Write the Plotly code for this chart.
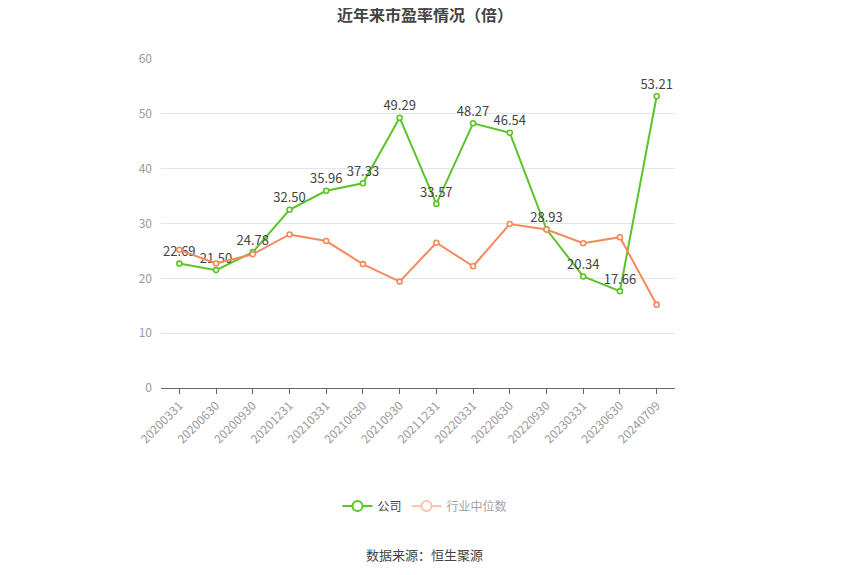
import plotly.graph_objects as go

dates = ["20200331", "20200630", "20200930", "20201231", "20210331", "20210630", "20210930",
         "20211231", "20220331", "20220630", "20220930", "20230331", "20230630", "20240709"]
company_pe = [22.69, 21.50, 24.78, 32.50, 35.96, 37.33, 49.29, 33.57, 48.27, 46.54, 28.93, 20.34, 17.66, 53.21]
industry_median = [25.2, 22.7, 24.4, 28.0, 26.8, 22.6, 19.4, 26.5, 22.2, 29.9, 28.9, 26.4, 27.5, 15.2]

green = "#5cc42a"
orange = "#f7885a"

fig = go.Figure()

fig.add_trace(go.Scatter(
    x=dates, y=company_pe, name="公司", showlegend=False,
    mode="lines+markers+text",
    text=[f"{v:.2f}" for v in company_pe],
    textposition="top center",
    textfont=dict(size=13, color="#444"),
    line=dict(color=green, width=2),
    marker=dict(symbol="circle", size=5, color="white", line=dict(color=green, width=1.6)),
))

fig.add_trace(go.Scatter(
    x=dates, y=industry_median, name="行业中位数", showlegend=False,
    mode="lines+markers",
    line=dict(color=orange, width=2),
    marker=dict(symbol="circle", size=5, color="white", line=dict(color=orange, width=1.6)),
))

# legend-only entries with larger icons, as in the reference
fig.add_trace(go.Scatter(
    x=[None], y=[None], name="公司", mode="lines+markers",
    line=dict(color=green, width=2),
    marker=dict(symbol="circle", size=10, color="white", line=dict(color=green, width=2)),
))
fig.add_trace(go.Scatter(
    x=[None], y=[None], name="行业中位数", mode="lines+markers", visible="legendonly",
    line=dict(color=orange, width=2),
    marker=dict(symbol="circle", size=10, color="white", line=dict(color=orange, width=2)),
))

fig.update_layout(
    width=850, height=575,
    paper_bgcolor="white", plot_bgcolor="white",
    font=dict(family="Noto Sans CJK SC, sans-serif", size=12, color="#333"),
    title=dict(text="<b>近年来市盈率情况（倍）</b>", xref="container", x=0.4906, xanchor="center",
               yref="container", y=0.9878, yanchor="middle",
               font=dict(size=16, color="#444")),
    margin=dict(l=153, r=183, t=51, b=195),
    showlegend=True,
    legend=dict(orientation="h", x=0.5136, xanchor="center",
                y=-0.359, yanchor="middle",
                font=dict(size=12, color="#444"), itemclick=False, itemdoubleclick=False),
    annotations=[dict(text="数据来源：恒生聚源", x=0.5136, xref="paper", y=-0.505, yref="paper",
                      yanchor="middle", showarrow=False, font=dict(size=13, color="#444"))],
)

fig.update_xaxes(
    type="category", range=[-0.5, len(dates) - 0.5], tickangle=-45, showgrid=False,
    automargin=False, showline=True, linecolor="#666", linewidth=1,
    ticks="outside", ticklen=5, tickcolor="#666",
    tickfont=dict(size=12, color="#999"),
)
fig.update_yaxes(
    range=[0, 60], dtick=10, showgrid=True, gridcolor="#e0e6f1",
    zeroline=False, showline=False, automargin=False,
    tickfont=dict(size=12, color="#999"), ticklabelstandoff=8,
)

fig.write_html("out.html")
